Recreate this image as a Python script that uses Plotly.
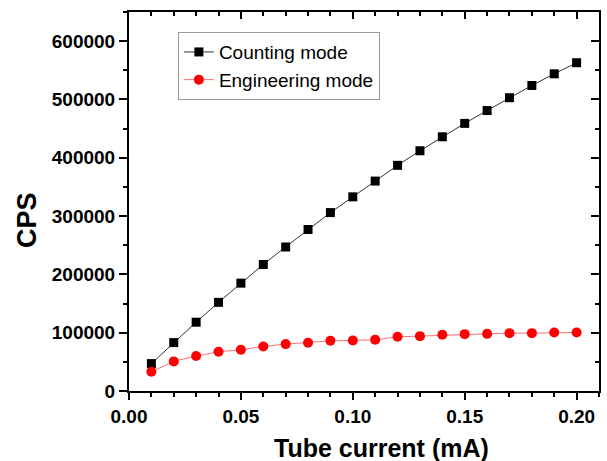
import plotly.graph_objects as go

current_ma = [0.01, 0.02, 0.03, 0.04, 0.05, 0.06, 0.07, 0.08, 0.09, 0.10,
              0.11, 0.12, 0.13, 0.14, 0.15, 0.16, 0.17, 0.18, 0.19, 0.20]
counting_cps = [47000, 83000, 118000, 152000, 185000, 217000, 247000, 277000, 306000, 333000,
                360000, 387000, 412000, 436000, 459000, 481000, 503000, 524000, 544000, 563000]
engineering_cps = [33000, 50800, 59900, 67300, 70700, 76400, 80400, 82700, 86100, 86700,
                   87800, 92900, 94100, 96400, 97500, 98000, 99200, 99200, 100400, 100400]

x_title = "Tube current (mA)"
y_title = "CPS"

FONT = "Liberation Sans, Arial, sans-serif"
XR = [0, 0.21]
YR = [0, 650000]

fig = go.Figure()
fig.add_trace(go.Scatter(
    x=current_ma, y=counting_cps, mode="lines+markers", name="Counting mode",
    line=dict(color="#333333", width=1),
    marker=dict(symbol="square", size=9, color="black"),
))
fig.add_trace(go.Scatter(
    x=current_ma, y=engineering_cps, mode="lines+markers", name="Engineering mode",
    line=dict(color="#ff7070", width=1),
    marker=dict(symbol="circle", size=10, color="#ff0000"),
))
# invisible trace to activate the mirrored top/right axes
fig.add_trace(go.Scatter(
    x=current_ma, y=engineering_cps, xaxis="x2", yaxis="y2", mode="markers",
    marker=dict(opacity=0), showlegend=False, hoverinfo="skip",
))

tickfont = dict(family=FONT, size=19, color="black", weight="bold")

fig.update_layout(
    width=607, height=461,
    margin=dict(l=129, r=8, t=12, b=70),
    paper_bgcolor="white", plot_bgcolor="white",
    showlegend=True,
    legend=dict(
        x=0.104, y=0.947, xanchor="left", yanchor="top",
        bgcolor="white", bordercolor="#999999", borderwidth=1,
        font=dict(family=FONT, size=19, color="black"),
        tracegroupgap=0,
    ),
    xaxis=dict(
        range=XR, showgrid=False, zeroline=False,
        showline=True, linecolor="black", linewidth=2,
        ticks="outside", ticklen=7, tickwidth=1.5, tickcolor="black",
        dtick=0.05, tick0=0, tickformat=".2f",
        minor=dict(ticks="outside", ticklen=4, tickwidth=1.5, tickcolor="black", dtick=0.01),
        tickfont=tickfont,
    ),
    yaxis=dict(
        range=YR, showgrid=False, zeroline=False,
        showline=True, linecolor="black", linewidth=2,
        ticks="outside", ticklen=8, tickwidth=1.5, tickcolor="black",
        dtick=100000, tick0=0, tickformat="d",
        minor=dict(ticks="outside", ticklen=4, tickwidth=1.5, tickcolor="black", dtick=50000),
        tickfont=tickfont,
    ),
    xaxis2=dict(
        range=XR, overlaying="x", side="top", anchor="y2",
        showgrid=False, zeroline=False, showticklabels=False,
        showline=True, linecolor="black", linewidth=2,
        ticks="inside", ticklen=7, tickwidth=1.5, tickcolor="black",
        dtick=0.05, tick0=0,
        minor=dict(ticks="inside", ticklen=4, tickwidth=1.5, tickcolor="black", dtick=0.01),
    ),
    yaxis2=dict(
        range=YR, overlaying="y", side="right", anchor="x2",
        showgrid=False, zeroline=False, showticklabels=False,
        showline=True, linecolor="black", linewidth=2,
        ticks="inside", ticklen=8, tickwidth=1.5, tickcolor="black",
        dtick=100000, tick0=0,
        minor=dict(ticks="inside", ticklen=4, tickwidth=1.5, tickcolor="black", dtick=50000),
    ),
    annotations=[
        dict(text=x_title, xref="paper", yref="paper", x=0.538, y=-0.151,
             xanchor="center", yanchor="middle", showarrow=False,
             font=dict(family=FONT, size=25, color="black", weight="bold")),
        dict(text=y_title, xref="paper", yref="paper", x=-0.217, y=0.451,
             xanchor="center", yanchor="middle", showarrow=False, textangle=-90,
             font=dict(family=FONT, size=27, color="black", weight="bold")),
    ],
)

fig.write_html("out.html")
